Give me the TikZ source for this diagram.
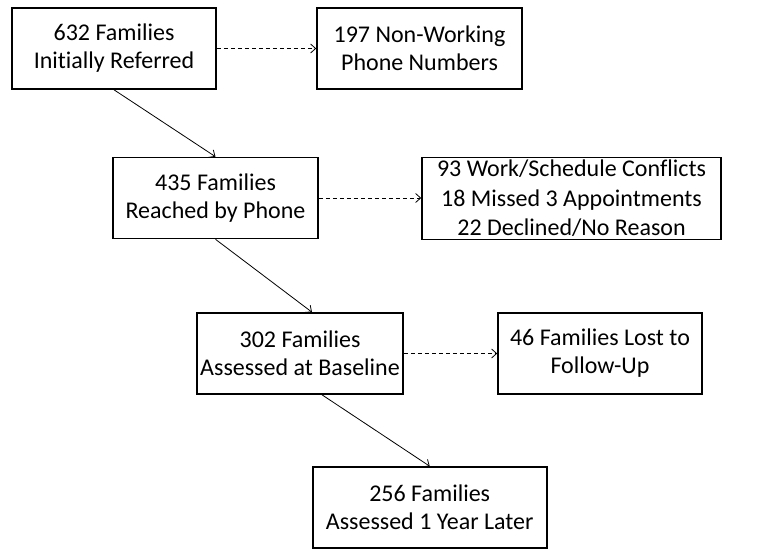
\documentclass[tikz,border=0pt]{standalone}
\usepackage{fontspec}
\setmainfont[Ligatures=NoCommon]{Carlito}
\usetikzlibrary{arrows,arrows.meta,positioning,calc}

\tikzset{
    stage/.style={draw, rectangle, line width=1.6pt, align=center, minimum height=81pt, inner sep=2pt, font=\fontsize{24}{28}\selectfont},
    flow/.style={-{Straight Barb[length=5pt,width=9pt]}, line width=0.8pt},
    lost/.style={-{Straight Barb[length=5pt,width=9pt]}, line width=0.8pt, dash pattern=on 4pt off 3pt}
}

\begin{document}
\begin{tikzpicture}[x=1pt, y=-1pt]
    \useasboundingbox (0,0) rectangle (760,549);

    % Main flow
    \node[stage, minimum width=204pt] (referred) at (114,48.5) {632 Families\\Initially Referred};
    \node[stage, minimum width=205pt] (reached) at (215.5,198) {435 Families\\Reached by Phone};
    \node[stage, minimum width=206pt] (baseline) at (300,353.5) {302 Families\\Assessed at Baseline};
    \node[stage, minimum width=234pt] (followup) at (429.7,507.5) {256 Families\\Assessed 1 Year Later};

    % Losses
    \node[stage, minimum width=205pt] (nophone) at (419.5,48.5) {197 Non-Working\\Phone Numbers};
    \node[stage, minimum width=299pt, minimum height=82pt, font=\fontsize{24}{29.5}\selectfont] (reasons) at (571.5,198.5) {93 Work/Schedule Conflicts\\18 Missed 3 Appointments\\22 Declined/No Reason};
    \node[stage, minimum width=204pt] (lostfu) at (600,353.5) {46 Families Lost to\\Follow-Up};

    % Connections
    \draw[flow] (referred.south) -- (reached.north);
    \draw[flow] (reached.south) -- ([xshift=12pt]baseline.north);
    \draw[flow] ([xshift=22pt]baseline.south) -- (followup.north);

    \draw[lost] (referred.east) -- (referred.east -| nophone.west);
    \draw[lost] (reached.east) -- (reached.east -| reasons.west);
    \draw[lost] (baseline.east) -- (baseline.east -| lostfu.west);

\end{tikzpicture}
\end{document}
